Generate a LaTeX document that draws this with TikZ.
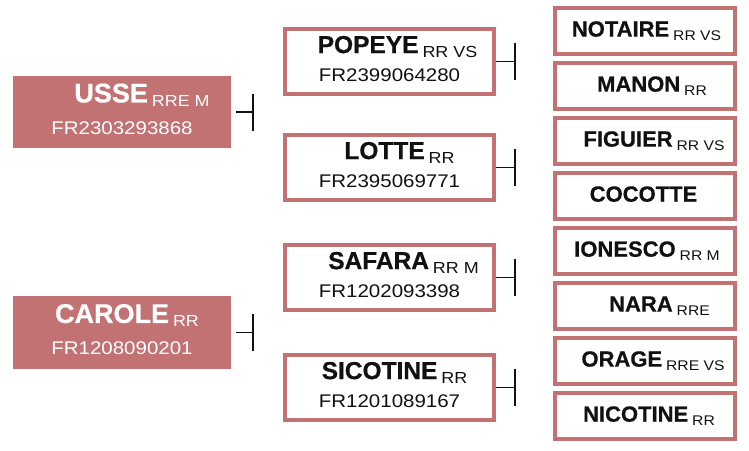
\documentclass[tikz,border=0pt]{standalone}
\usepackage{fontspec}
\setmainfont{Liberation Sans}[BoldFeatures={FakeBold=0.6}]
\newfontfamily\widefont{Liberation Sans}[FakeStretch=1.12]
\usetikzlibrary{positioning}

\definecolor{rose}{RGB}{194,114,115}
\definecolor{ink}{RGB}{17,17,17}

% name in bold (node font) with the small tag set lower; #2 = shift to the right
\newcommand{\who}[4][16]{\hspace*{\dimexpr#2pt*2\relax}#3\hspace{4pt}\raisebox{-4pt}{\widefont\mdseries\fontsize{#1}{#1}\selectfont #4}}
\newcommand{\ident}[1]{{\widefont\mdseries\fontsize{18.3}{18.3}\selectfont #1\rule[-6pt]{0pt}{6pt}}}

\tikzset{
  base/.style={rectangle, inner sep=0pt, align=center, text=ink},
  dam/.style={base, fill=rose, text=white, minimum width=218pt, minimum height=72pt,
    font=\fontsize{27}{32}\selectfont\bfseries},
  parent/.style={base, draw=rose, line width=4pt, fill=white, minimum width=209pt,
    minimum height=65pt, font=\fontsize{24.5}{28}\selectfont\bfseries},
  grand/.style={base, draw=rose, line width=4pt, fill=white, minimum width=180pt,
    minimum height=46pt, font=\fontsize{22}{22}\selectfont\bfseries},
  link/.style={draw=ink, line width=1.5pt}
}

\begin{document}
\begin{tikzpicture}[x=1pt, y=-1pt]
  % --- column centres (x) ---
  \def\xa{122}    % left column
  \def\xb{389.5}  % middle column
  \def\xc{645}    % right column
  \def\bar{18.5}  % half height of the end bars

  \useasboundingbox (0,0) rectangle (749,450);

  % --- left column ---
  \node[dam] (usse)   at (\xa,112)   {\who{20}{USSE}{RRE M}\\\ident{FR2303293868}};
  \node[dam, minimum height=73pt] (carole) at (\xa,332.5) {\who{5}{CAROLE}{RR}\\\ident{FR1208090201}};

  \foreach \a in {usse,carole} {
    \draw[link] ([xshift=5pt]\a.east) -- ++(17,0) coordinate (\a-j);
    \draw[link] ([yshift=\bar pt]\a-j) -- ([yshift=-\bar pt]\a-j);
  }

  % --- middle column ---
  \foreach \hname/\htag/\hid/\y/\dx [count=\i] in {
      POPEYE/RR VS/FR2399064280/61.5/8,
      LOTTE/RR/FR2395069771/167.5/10,
      SAFARA/RR M/FR1202093398/277.5/14,
      SICOTINE/RR/FR1201089167/387.5/5} {
    \node[parent] (p\i) at (\xb,\y) {\who{\dx}{\hname}{\htag}\\\ident{\hid}};
    \draw[link] (p\i.east) -- ++(19,0) coordinate (p\i-j);
    \draw[link] ([yshift=\bar pt]p\i-j) -- ([yshift=-\bar pt]p\i-j);
  }

  % --- right column ---
  \foreach \hname/\htag/\dx [count=\i] in {
      NOTAIRE/RR VS/1.5, MANON/RR/7, FIGUIER/RR VS/9, COCOTTE//0.5,
      IONESCO/RR M/2, NARA/RRE/14.5, ORAGE/RRE VS/8, NICOTINE/RR/4} {
    \node[grand] (g\i) at (\xc,{31+55*(\i-1)}) {\who[14]{\dx}{\hname}{\htag}};
  }
\end{tikzpicture}
\end{document}
